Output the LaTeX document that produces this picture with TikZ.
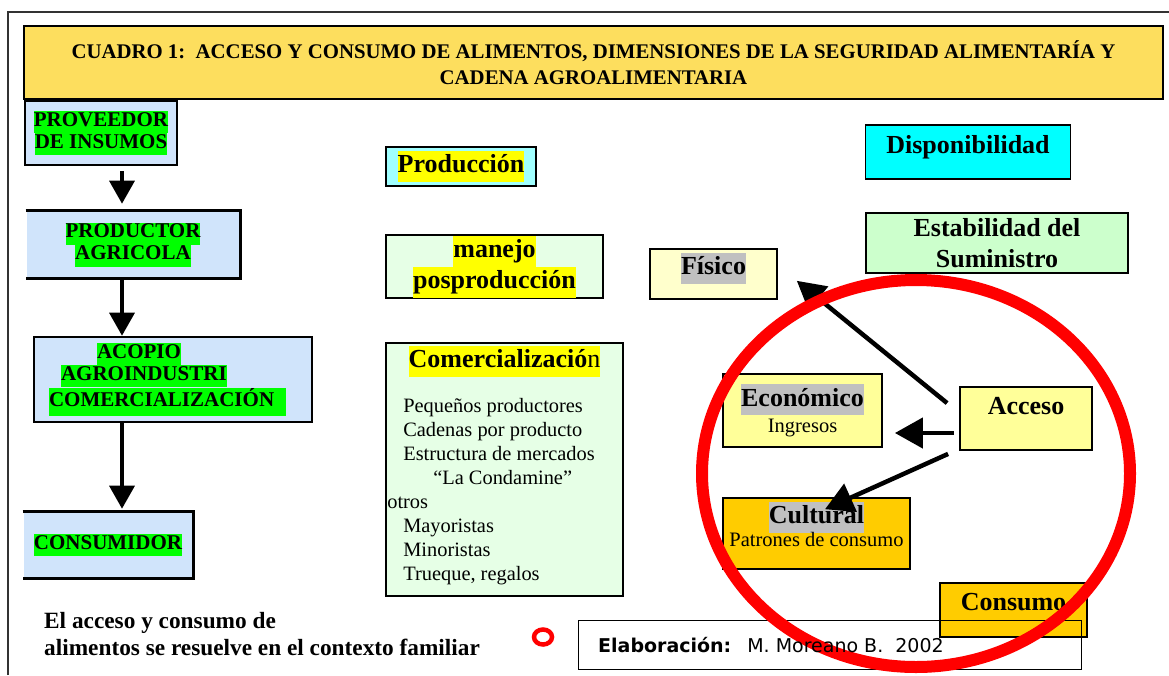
\documentclass[tikz,border=0pt]{standalone}
\usepackage{fontspec}
\setmainfont{Liberation Serif}
\newfontfamily\elabfont{DejaVu Sans}
\usetikzlibrary{arrows.meta}

\definecolor{titlegold}{RGB}{253,222,94}
\definecolor{chainblue}{RGB}{208,228,251}
\definecolor{hlgreen}{RGB}{0,255,0}
\definecolor{hlyellow}{RGB}{255,255,0}
\definecolor{hlgray}{RGB}{192,192,192}
\definecolor{prodcyan}{RGB}{160,255,255}
\definecolor{dispcyan}{RGB}{0,255,255}
\definecolor{mintgreen}{RGB}{230,255,230}
\definecolor{stabgreen}{RGB}{204,255,204}
\definecolor{paleyellow}{RGB}{255,255,204}
\definecolor{softyellow}{RGB}{255,255,153}
\definecolor{amber}{RGB}{255,204,0}

\newcommand{\hlmark}[2]{{\setlength{\fboxsep}{0pt}\colorbox{#1}{\strut #2}}}

\begin{document}
\begin{tikzpicture}
	[x=1pt, y=-1pt,
	block/.style ={rectangle, draw=black, line width=1.8pt, inner sep=0pt, align=center},
	chain/.style ={block, fill=chainblue, line width=2.6pt, font=\fontsize{21}{22}\selectfont\bfseries},
	stage/.style ={block, font=\fontsize{26}{31}\selectfont\bfseries},
	flow/.style ={draw, line width=3.5pt, -{Triangle[length=23pt,width=25pt]}},
	pull/.style ={draw, line width=4.5pt, -{Triangle[length=28pt,width=30pt]}},
	ring/.style ={draw=red, line width=12pt}]
	\useasboundingbox (0,0) rectangle (1169,675);
	\draw[line width=1.6pt, black!80] (8,675) -- (8,12) -- (1169,12);

	\node[block, fill=titlegold, minimum width=1139pt, minimum height=73pt,
		font=\fontsize{20.8}{26}\selectfont\bfseries] (hdr) at (593.5,62.5)
		{CUADRO 1:\ \ ACCESO Y CONSUMO DE ALIMENTOS, DIMENSIONES DE LA SEGURIDAD ALIMENTARÍA Y\\CADENA AGROALIMENTARIA};

	\node[chain, minimum width=152pt, minimum height=64pt] (prov) at (101,133)
		{\hlmark{hlgreen}{PROVEEDOR}\\\hlmark{hlgreen}{DE INSUMOS}};
	\node[chain, draw=none, minimum width=212pt, minimum height=65pt] (prod) at (133,244.5)
		{\hlmark{hlgreen}{PRODUCTOR}\\\hlmark{hlgreen}{AGRICOLA}};
	\draw[line width=2.6pt] (prod.north west) -- (prod.north east) -- (prod.south east) -- (prod.south west);
	\node[chain, minimum width=278pt, minimum height=85pt, text width=248pt, align=left] (acop) at (173,379.5)
		{\hspace*{48pt}\hlmark{hlgreen}{ACOPIO}\\\hspace*{12pt}\hlmark{hlgreen}{AGROINDUSTRI}\\\hlmark{hlgreen}{COMERCIALIZACIÓN\hspace{12pt}\rule[-10pt]{0pt}{10pt}}};
	\node[chain, draw=none, minimum width=168pt, minimum height=64pt] (cons) at (108,545)
		{\hlmark{hlgreen}{CONSUMIDOR}};
	\draw[line width=2.6pt] (cons.north west) -- (cons.north east) -- (cons.south east) -- (cons.south west);

	\coordinate (col) at (122,0);
	\draw[flow, shorten <=5pt, shorten >=7pt] (prov.south -| col) -- (prod.north -| col);
	\draw[flow] (prod.south -| col) -- (acop.north -| col);
	\draw[flow, shorten >=3pt] (acop.south -| col) -- (cons.north -| col);

	\node[stage, fill=prodcyan, minimum width=150pt, minimum height=39pt] (prodn) at (461,166.5)
		{\hlmark{hlyellow}{Producción}};
	\node[stage, fill=mintgreen, minimum width=217pt, minimum height=63pt] (manejo) at (494.5,266.5)
		{\hlmark{hlyellow}{manejo}\\\hlmark{hlyellow}{posproducción}};
	\node[block, fill=mintgreen, minimum width=237pt, minimum height=253pt] (comer) at (504.5,469.5) {};
	\node[stage, draw=none, anchor=north, yshift=-3pt] (comtit) at (comer.north)
		{\hlmark{hlyellow}{Comercializació{\mdseries n}}};
	\node[anchor=north west, inner sep=0pt, align=left, font=\fontsize{20.4}{24}\selectfont] (comlist)
		at ([shift={(2,56)}]comer.north west)
		{\hspace*{16pt}Pequeños productores\\
		\hspace*{16pt}Cadenas por producto\\
		\hspace*{16pt}Estructura de mercados\\
		\hspace*{46pt}“La Condamine”\\
		otros\\
		\hspace*{16pt}Mayoristas\\
		\hspace*{16pt}Minoristas\\
		\hspace*{16pt}Trueque, regalos};

	\node[stage, fill=dispcyan, minimum width=205pt, minimum height=54pt, text depth=16pt] (disp) at (968,152)
		{Disponibilidad};
	\node[stage, fill=stabgreen, minimum width=262pt, minimum height=60pt] (estab) at (997,243)
		{Estabilidad del\\Suministro};
	\node[stage, fill=paleyellow, line width=1.6pt, minimum width=127pt, minimum height=50pt, text depth=20pt] (fis) at (713.5,274)
		{\hlmark{hlgray}{Físico}};
	\node[stage, fill=softyellow, minimum width=159pt, minimum height=73pt] (eco) at (802.5,410.5)
		{\hlmark{hlgray}{Económico}\\[-5pt]{\mdseries\fontsize{20.5}{24}\selectfont Ingresos}};
	\node[stage, fill=softyellow, minimum width=132pt, minimum height=63pt, text depth=25pt] (acc) at (1026,418.5)
		{Acceso};
	\node[stage, fill=amber, line width=1.6pt, minimum width=187pt, minimum height=71pt, text depth=18pt] (cul) at (816.5,533.5)
		{\hlmark{hlgray}{Cultural}\\[-8pt]{\mdseries\fontsize{20.5}{24}\selectfont Patrones de consumo}};
	\node[stage, fill=amber, minimum width=147pt, minimum height=54pt, text depth=16pt] (cnsm) at (1013.5,610)
		{Consumo};

	\draw[pull] ([shift={(-12,17)}]acc.north west) -- ([shift={(19,-19)}]fis.south east);
	\draw[pull] ([shift={(-5,14.5)}]acc.west) -- ([shift={(12,22.5)}]eco.east);
	\draw[pull] ([shift={(-11,3)}]acc.south west) -- ([shift={(8.5,12)}]cul.north);

	\node[anchor=west, align=left, inner sep=0pt, font=\fontsize{23.3}{27}\selectfont\bfseries] (note) at (44,634)
		{El acceso y consumo de\\alimentos se resuelve en el contexto familiar};
	\node[draw, line width=1.4pt, anchor=north west, minimum width=503pt, minimum height=49pt] (elab) at (578,620) {};

	\draw[ring] (916,473.5) ellipse [x radius=214pt, y radius=193.5pt];
	\draw[draw=red, line width=4.5pt] (543,637) ellipse [x radius=9pt, y radius=7.5pt];

	\node[anchor=west, inner sep=0pt, font=\elabfont\fontsize{19}{22}\selectfont] (elabtxt) at ([xshift=20pt]elab.west)
		{\textbf{Elaboración:}\hspace{16pt}M. Moreano B.\ \ 2002};
\end{tikzpicture}
\end{document}
